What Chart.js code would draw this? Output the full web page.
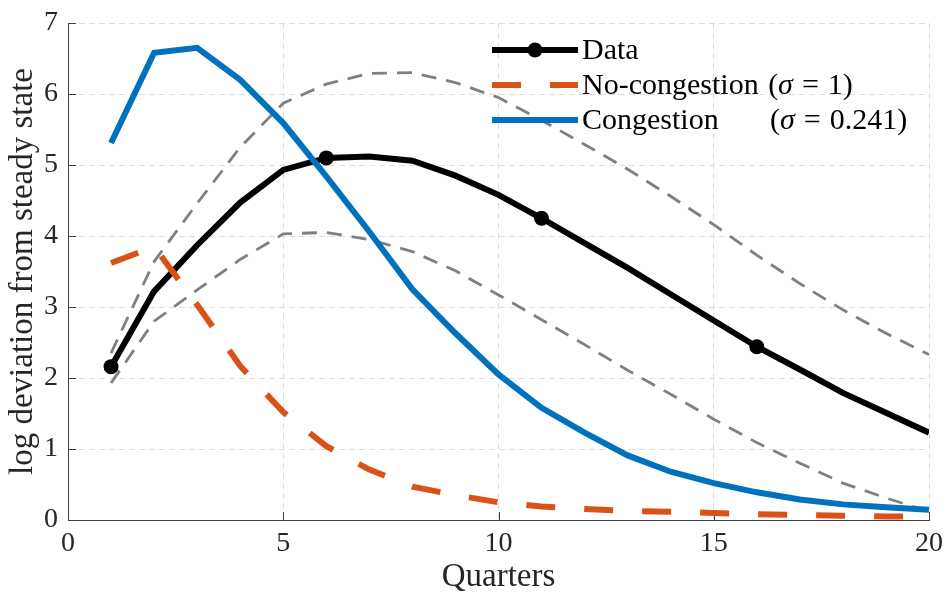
<!DOCTYPE html>
<html>
<head>
<meta charset="utf-8">
<script src="https://cdn.jsdelivr.net/npm/chart.js@4/dist/chart.umd.min.js"></script>
<style>
html,body{margin:0;padding:0;background:#fff;}
#wrap{width:945px;height:594px;position:relative;}
</style>
</head>
<body>
<div id="wrap"><canvas id="c" width="945" height="594"></canvas></div>
<script>
// ---- data ----
const quarters = [1,2,3,4,5,6,7,8,9,10,11,12,13,14,15,16,17,18,19,20];
const dataSeries = [2.16,3.22,3.87,4.47,4.93,5.10,5.12,5.06,4.85,4.58,4.25,3.90,3.55,3.18,2.81,2.44,2.12,1.79,1.51,1.23];
const noCongestion = [3.62,3.85,3.03,2.17,1.52,1.04,0.71,0.47,0.35,0.25,0.19,0.155,0.13,0.115,0.10,0.08,0.07,0.06,0.05,0.045];
const congestion = [5.31,6.58,6.65,6.20,5.59,4.84,4.06,3.25,2.63,2.05,1.58,1.23,0.91,0.68,0.52,0.39,0.29,0.22,0.18,0.145];
const bandUpper = [2.35,3.64,4.46,5.25,5.87,6.14,6.29,6.30,6.16,5.95,5.63,5.29,4.94,4.56,4.16,3.73,3.33,2.96,2.63,2.33];
const bandLower = [1.93,2.80,3.24,3.67,4.03,4.05,3.95,3.78,3.51,3.17,2.82,2.47,2.11,1.77,1.42,1.09,0.80,0.52,0.31,0.12];
const markerQuarters = [1,6,11,16];
const xTicks = [0,5,10,15,20];
const yTicks = [0,1,2,3,4,5,6,7];
const labels = {
  data: 'Data',
  noCong: 'No-congestion',
  noCongSigma: '1',
  cong: 'Congestion',
  congSigma: '0.241',
  xTitle: 'Quarters',
  yTitle: 'log deviation from steady state'
};

const pts = arr => quarters.map((q,i)=>({x:q, y:arr[i]}));
const SERIF = "'Liberation Serif', 'Times New Roman', serif";
const TXT = '#262626';
const BLACK = '#000000', ORANGE = '#D95319', BLUE = '#0072BD', GRAY = '#808080';

const innerTicks = {
  id: 'innerTicks',
  beforeDatasetsDraw(chart) {
    const {ctx, scales:{x, y}, chartArea:a} = chart;
    ctx.save();
    ctx.strokeStyle = '#404040';
    ctx.lineWidth = 1;
    ctx.beginPath();
    xTicks.forEach(v => {
      const px = Math.round(x.getPixelForValue(v)) + 0.5;
      ctx.moveTo(px, a.bottom); ctx.lineTo(px, a.bottom - 8);
    });
    yTicks.forEach(v => {
      const py = Math.round(y.getPixelForValue(v)) + 0.5;
      ctx.moveTo(a.left, py); ctx.lineTo(a.left + 8, py);
    });
    ctx.stroke();
    ctx.restore();
  }
};

const customLegend = {
  id: 'customLegend',
  afterDraw(chart) {
    const ctx = chart.ctx;
    const x0 = 492, x1 = 578, tx = 582;
    const rows = [50, 85, 120];
    const fs = 30;
    ctx.save();
    ctx.lineCap = 'butt';
    // Data
    ctx.strokeStyle = BLACK; ctx.lineWidth = 6; ctx.setLineDash([]);
    ctx.beginPath(); ctx.moveTo(x0, rows[0]); ctx.lineTo(x1, rows[0]); ctx.stroke();
    ctx.fillStyle = BLACK;
    ctx.beginPath(); ctx.arc((x0+x1)/2, rows[0], 7.5, 0, Math.PI*2); ctx.fill();
    // No-congestion
    ctx.strokeStyle = ORANGE; ctx.setLineDash([29, 29]);
    ctx.beginPath(); ctx.moveTo(x0, rows[1]); ctx.lineTo(x1, rows[1]); ctx.stroke();
    // Congestion
    ctx.setLineDash([]);
    ctx.strokeStyle = BLUE;
    ctx.beginPath(); ctx.moveTo(x0, rows[2]); ctx.lineTo(x1, rows[2]); ctx.stroke();

    ctx.fillStyle = '#000';
    ctx.textBaseline = 'alphabetic';
    const up = `${fs}px ${SERIF}`, it = `italic ${fs}px ${SERIF}`;
    const off = 9;
    ctx.font = up;
    ctx.fillText(labels.data, tx, rows[0] + off);
    const mathPart = (startX, y, val) => {
      let cx = startX;
      ctx.font = up; ctx.fillText('(', cx, y); cx += ctx.measureText('(').width;
      ctx.font = it; ctx.fillText('σ', cx, y); cx += ctx.measureText('σ').width + 9;
      ctx.font = up; ctx.fillText('=', cx, y); cx += ctx.measureText('=').width + 9;
      ctx.fillText(val + ')', cx, y);
    };
    ctx.font = up;
    ctx.fillText(labels.noCong, tx, rows[1] + off);
    const w = ctx.measureText(labels.noCong + ' ').width;
    mathPart(tx + w + 2, rows[1] + off, labels.noCongSigma);
    ctx.font = up;
    ctx.fillText(labels.cong, tx, rows[2] + off);
    mathPart(770, rows[2] + off, labels.congSigma);
    ctx.restore();
  }
};

const tickFont = {family: SERIF, size: 28};
const titleFont = {family: SERIF, size: 33, lineHeight: 1};

new Chart(document.getElementById('c'), {
  type: 'line',
  data: {
    datasets: [
      {label: labels.cong, data: pts(congestion), borderColor: BLUE, borderWidth: 6, pointRadius: 0, tension: 0, order: 1},
      {label: labels.noCong, data: pts(noCongestion), borderColor: ORANGE, borderWidth: 6, borderDash: [29, 29], pointRadius: 0, tension: 0, order: 2},
      {label: labels.data, data: pts(dataSeries), borderColor: BLACK, backgroundColor: BLACK, borderWidth: 6, tension: 0, order: 3,
        pointRadius: ctx => markerQuarters.includes(quarters[ctx.dataIndex]) ? 7.5 : 0,
        pointBorderWidth: 0, pointBackgroundColor: BLACK},
      {label: 'upper', data: pts(bandUpper), borderColor: GRAY, borderWidth: 2.8, borderDash: [15, 10], pointRadius: 0, tension: 0, order: 4},
      {label: 'lower', data: pts(bandLower), borderColor: GRAY, borderWidth: 2.8, borderDash: [15, 10], pointRadius: 0, tension: 0, order: 5}
    ]
  },
  options: {
    responsive: false,
    animation: false,
    devicePixelRatio: 1,
    layout: {padding: {top: 23, right: 16, left: 0, bottom: 0}},
    plugins: {legend: {display: false}, tooltip: {enabled: false}},
    scales: {
      x: {
        type: 'linear', min: 0, max: 20,
        afterBuildTicks: s => { s.ticks = xTicks.map(v => ({value: v})); },
        ticks: {font: tickFont, color: TXT, padding: 7, maxRotation: 0},
        grid: {color: '#dedede', lineWidth: 1, drawTicks: false},
        border: {display: true, color: '#404040', width: 1, dash: [6, 4]},
        title: {display: true, text: labels.xTitle, font: titleFont, color: TXT, padding: {top: 0, bottom: 0}},
        afterFit: s => { s.height = 74; s.paddingLeft = 0; s.paddingRight = 0; }
      },
      y: {
        type: 'linear', min: 0, max: 7,
        afterBuildTicks: s => { s.ticks = yTicks.map(v => ({value: v})); },
        ticks: {font: tickFont, color: TXT, padding: 10},
        grid: {color: '#dedede', lineWidth: 1, drawTicks: false},
        border: {display: true, color: '#404040', width: 1, dash: [6, 4]},
        title: {display: true, text: labels.yTitle, font: titleFont, color: TXT, padding: {top: 7, bottom: 0}},
        afterFit: s => { s.width = 68; s.paddingTop = 0; s.paddingBottom = 0; }
      }
    }
  },
  plugins: [innerTicks, customLegend]
});
</script>
</body>
</html>
